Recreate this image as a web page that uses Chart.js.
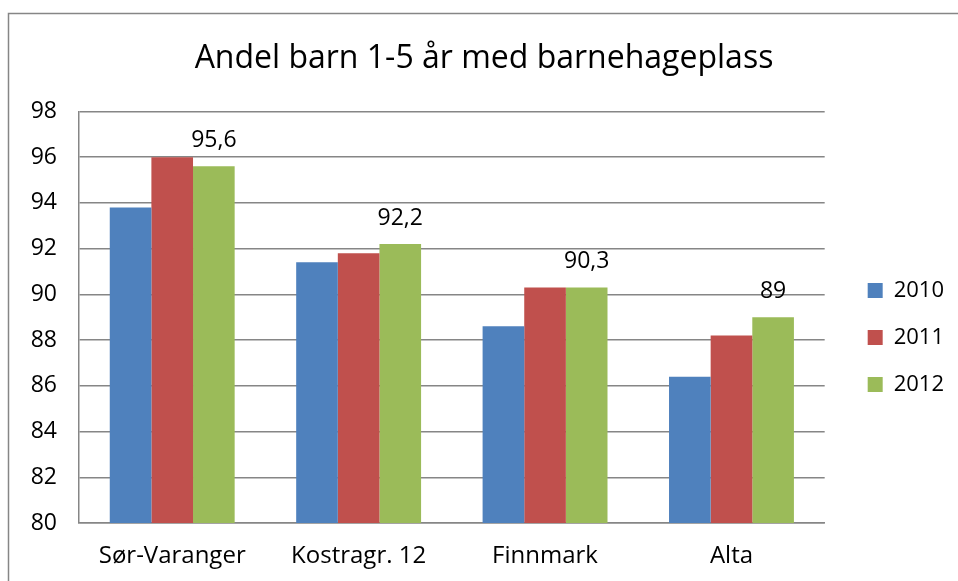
<!DOCTYPE html>
<html>
<head>
<meta charset="utf-8">
<script src="https://cdn.jsdelivr.net/npm/chart.js@4/dist/chart.umd.min.js"></script>
<style>
html,body{margin:0;padding:0;background:#fff;}
#wrap{width:958px;height:581px;}
</style>
</head>
<body>
<div id="wrap"><canvas id="c" width="958" height="581"></canvas></div>
<script>
const categories = ["Sør-Varanger", "Kostragr. 12", "Finnmark", "Alta"];
const seriesNames = ["2010", "2011", "2012"];
const values2010 = [93.8, 91.4, 88.6, 86.4];
const values2011 = [96.0, 91.8, 90.3, 88.2];
const values2012 = [95.6, 92.2, 90.3, 89.0];
const labelled2012 = ["95,6", "92,2", "90,3", "89"];
const yTicks = [80, 82, 84, 86, 88, 90, 92, 94, 96, 98];

const FONT = "'Open Sans', 'Liberation Sans', sans-serif";

const borderPlugin = {
  id: 'outerBorder',
  beforeDraw(chart) {
    const ctx = chart.ctx;
    ctx.save();
    ctx.fillStyle = '#fff';
    ctx.fillRect(0, 0, chart.width, chart.height);
    ctx.strokeStyle = '#868686';
    ctx.lineWidth = 1.5;
    ctx.beginPath();
    ctx.moveTo(8.5, chart.height);
    ctx.lineTo(8.5, 13.5);
    ctx.lineTo(chart.width, 13.5);
    ctx.stroke();
    ctx.restore();
  }
};

const boxShift = {
  id: 'boxShift',
  afterLayout(chart) {
    const lg = chart.legend;
    if (lg) {
      lg.left += 18; lg.right += 18;
      lg.top += 46; lg.bottom += 46;
    }
    const tb = chart.titleBlock;
    if (tb) { tb.left += 11; tb.right += 11; }
  }
};

const labelPlugin = {
  id: 'valueLabels',
  afterDatasetsDraw(chart) {
    const ctx = chart.ctx;
    const meta = chart.getDatasetMeta(2);
    ctx.save();
    ctx.font = "23px " + FONT;
    ctx.fillStyle = '#000';
    ctx.textAlign = 'center';
    ctx.textBaseline = 'middle';
    meta.data.forEach((bar, i) => {
      ctx.fillText(labelled2012[i], bar.x, bar.y - 26);
    });
    ctx.restore();
  }
};

new Chart(document.getElementById('c'), {
  type: 'bar',
  data: {
    labels: categories,
    datasets: [
      { label: seriesNames[0], data: values2010, backgroundColor: '#4F81BD' },
      { label: seriesNames[1], data: values2011, backgroundColor: '#C0504D' },
      { label: seriesNames[2], data: values2012, backgroundColor: '#9BBB59' }
    ]
  },
  options: {
    responsive: false,
    animation: false,
    devicePixelRatio: 1,
    layout: { padding: { top: 10, left: 10, right: 22, bottom: 8 } },
    datasets: { bar: { categoryPercentage: 0.67, barPercentage: 1.0 } },
    plugins: {
      title: {
        display: true,
        text: 'Andel barn 1-5 år med barnehageplass',
        font: { family: FONT, size: 32, weight: 'normal' },
        color: '#000',
        padding: { top: 30, bottom: 33 }
      },
      legend: {
        position: 'right',
        labels: {
          font: { family: FONT, size: 22 },
          color: '#000',
          boxWidth: 15,
          boxHeight: 15,
          padding: 25
        }
      },
      tooltip: { enabled: false }
    },
    scales: {
      x: {
        afterFit(axis) { axis.height = 50; },
        grid: { display: false, drawTicks: false },
        border: { display: true, color: '#868686', width: 1.5 },
        ticks: { font: { family: FONT, size: 24 }, color: '#000', padding: 19 }
      },
      y: {
        min: 80,
        max: 98,
        afterFit(axis) { axis.width = 69; },
        afterBuildTicks(axis) { axis.ticks = yTicks.map(v => ({ value: v })); },
        grid: { color: '#868686', lineWidth: 1.5, drawTicks: false },
        border: { display: true, color: '#868686', width: 1.5 },
        ticks: { font: { family: FONT, size: 23 }, color: '#000', padding: 22 }
      }
    }
  },
  plugins: [borderPlugin, boxShift, labelPlugin]
});
</script>
</body>
</html>
